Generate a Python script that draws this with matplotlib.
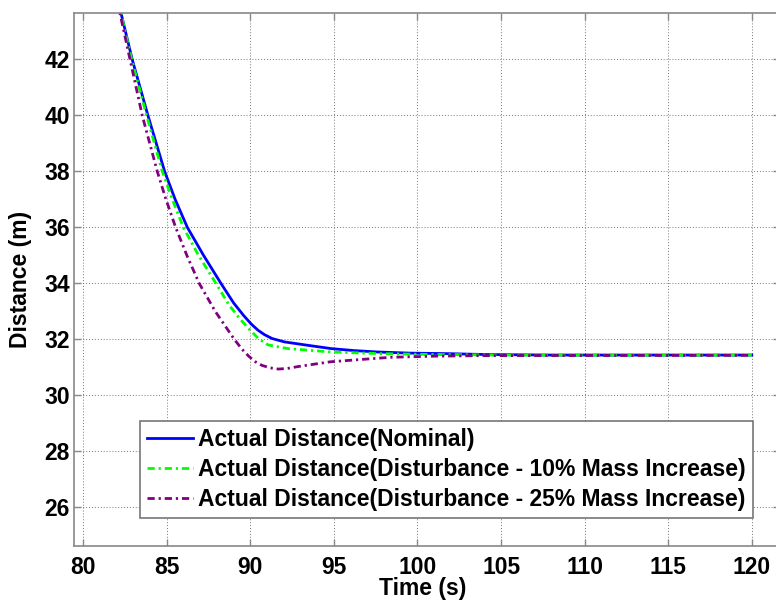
import matplotlib

matplotlib.use("Agg")
import matplotlib.pyplot as plt

plt.rcParams["font.family"] = ["Liberation Sans", "DejaVu Sans"]
plt.rcParams["font.weight"] = "bold"

# nominal run
t_nom = [82.1, 82.93, 83.87, 84.87, 85.5, 86.23, 87.2, 88.24, 89.0, 89.6,
         90.05, 90.45, 90.84, 91.3, 92.04, 93.3, 94.84, 96.2, 97.6, 99.5,
         101.8, 104.0, 108.0, 120.0]
d_nom = [44.05, 42.0, 40.0, 38.0, 37.0, 36.0, 35.0, 34.0, 33.3, 32.85,
         32.55, 32.33, 32.17, 32.03, 31.91, 31.8, 31.67, 31.6, 31.55, 31.51,
         31.49, 31.46, 31.44, 31.44]

# 10% mass increase
t_10 = [82.1, 82.9, 83.79, 84.73, 85.33, 85.99, 86.9, 87.94, 88.7, 89.35,
        89.9, 90.5, 91.07, 92.26, 94.8, 97.8, 101.0, 105.0, 120.0]
d_10 = [44.05, 42.0, 40.0, 38.0, 37.0, 36.0, 35.0, 34.0, 33.25, 32.75,
        32.38, 32.02, 31.8, 31.67, 31.55, 31.49, 31.46, 31.44, 31.44]

# 25% mass increase
t_25 = [82.05, 82.8, 83.53, 84.43, 84.95, 85.53, 86.2, 86.94, 87.9, 89.04,
        89.5, 89.9, 90.3, 90.7, 91.2, 91.67, 92.2, 92.86, 94.8, 96.8, 98.4,
        101.0, 104.0, 120.0]
d_25 = [44.05, 42.0, 40.0, 38.0, 37.0, 36.0, 35.0, 34.0, 33.0, 32.0,
        31.65, 31.4, 31.2, 31.07, 30.98, 30.94, 30.96, 31.03, 31.2, 31.29, 31.36,
        31.4, 31.42, 31.43]

labels = ["Actual Distance(Nominal)",
          "Actual Distance(Disturbance - 10% Mass Increase)",
          "Actual Distance(Disturbance - 25% Mass Increase)"]

fig = plt.figure(figsize=(7.76, 6.0), dpi=100)
ax = fig.add_axes([0.0954, 0.09, 0.91, 0.888])

dashdot = (0, (2.6, 1.4, 0.8, 1.4))
ax.plot(t_nom, d_nom, color="#0000ff", lw=2.0, label=labels[0])
ax.plot(t_10, d_10, color="#00ff00", lw=2.0, ls=dashdot, label=labels[1])
ax.plot(t_25, d_25, color="#800080", lw=2.0, ls=dashdot, label=labels[2])

ax.set_xlim(79.45, 121.7)
ax.set_ylim(24.62, 43.65)
ax.set_xticks(range(80, 121, 5))
ax.set_yticks(range(26, 43, 2))
ax.grid(True, color="#777777", ls=(0, (1, 2)), lw=0.7)
ax.tick_params(direction="in", top=True, right=True, labelsize=16.5, length=5,
               color="#888888", width=1.0)
ax.tick_params(axis="x", pad=7)
ax.tick_params(axis="y", pad=3)
for sp in ax.spines.values():
    sp.set_color("#888888")
    sp.set_linewidth(1.2)

ax.set_xlabel("Time (s)", fontsize=16.5, fontweight="bold")
ax.xaxis.set_label_coords(0.494, -0.058)
ax.set_ylabel("Distance (m)", fontsize=16.5, fontweight="bold")
ax.yaxis.set_label_coords(-0.06, 0.5)

leg = ax.legend(loc="lower left", bbox_to_anchor=(0.0935, 0.0525),
                prop={"weight": "bold", "size": 16.5}, fancybox=False,
                edgecolor="#777777", framealpha=1, handlelength=2.0,
                handletextpad=0.25, borderpad=0.3, labelspacing=0.31,
                borderaxespad=0)
leg.get_frame().set_linewidth(1.2)

fig.savefig("out.png", dpi=100)
